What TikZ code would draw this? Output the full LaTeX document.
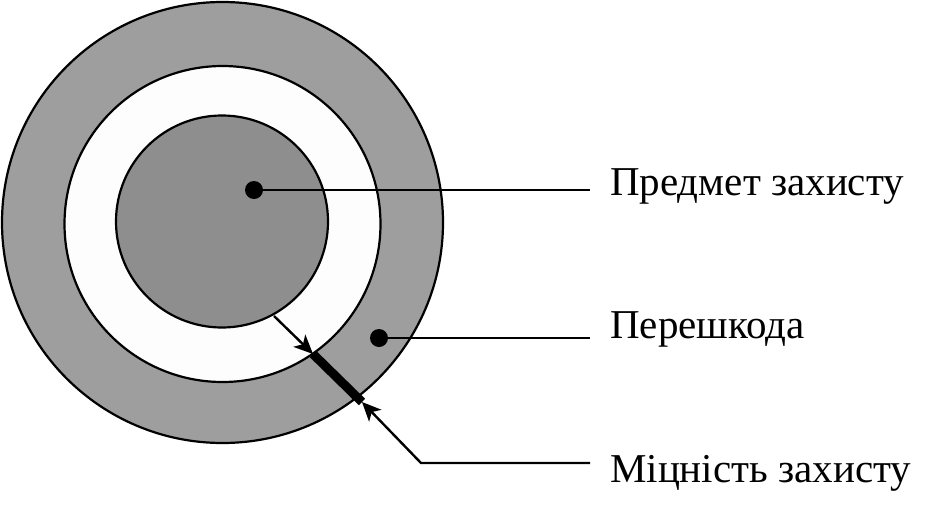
\documentclass[tikz,border=0pt]{standalone}
\usepackage{fontspec}
\setmainfont{Liberation Serif}
\usetikzlibrary{arrows.meta}
\definecolor{ringgray}{RGB}{158,158,158}
\definecolor{coregray}{RGB}{142,142,142}
\definecolor{gapwhite}{RGB}{253,253,253}
\begin{document}
\begin{tikzpicture}[x=1pt,y=-1pt,
  disc/.style={circle,draw=black,line width=2.2pt,inner sep=0pt},
  dotmark/.style={circle,fill=black,inner sep=0pt,minimum size=18pt},
  leader/.style={line width=2.4pt},
  lbl/.style={anchor=base west,inner sep=0pt,font=\fontsize{41}{44}\selectfont},
  tip/.style={-{Stealth[length=19pt,width=17pt,inset=5pt]},line width=2.4pt}]
\useasboundingbox (0,0) rectangle (946,528);
\node[disc,fill=ringgray,minimum size=441pt] (outer) at (222.5,222.5) {};
\node[disc,fill=gapwhite,minimum size=316pt] (middle) at (222.5,224) {};
\node[disc,fill=coregray,minimum size=212pt] (inner) at (222,221.5) {};
\node[dotmark] (d1) at (254,190) {};
\node[dotmark] (d2) at (379,338) {};
\coordinate (e1) at (590,190);
\coordinate (e2) at (590,338);
\coordinate (e3) at (590,463);
\coordinate (a0) at (274,316);
\coordinate (a1) at (313,354);
\coordinate (a2) at (362,402);
\coordinate (bend) at (421,463);
\draw[leader] (d1.center) -- (e1);
\draw[leader] (d2.center) -- (e2);
\draw[line width=9pt] (a1) -- (a2);
\draw[tip] (a0) -- (a1);
\draw[tip] (e3) -- (bend) -- (a2);
\node[lbl] (t1) at (610,195) {Предмет захисту};
\node[lbl] (t2) at (610,338) {Перешкода};
\node[lbl] (t3) at (610,482) {Міцність захисту};
\end{tikzpicture}
\end{document}
